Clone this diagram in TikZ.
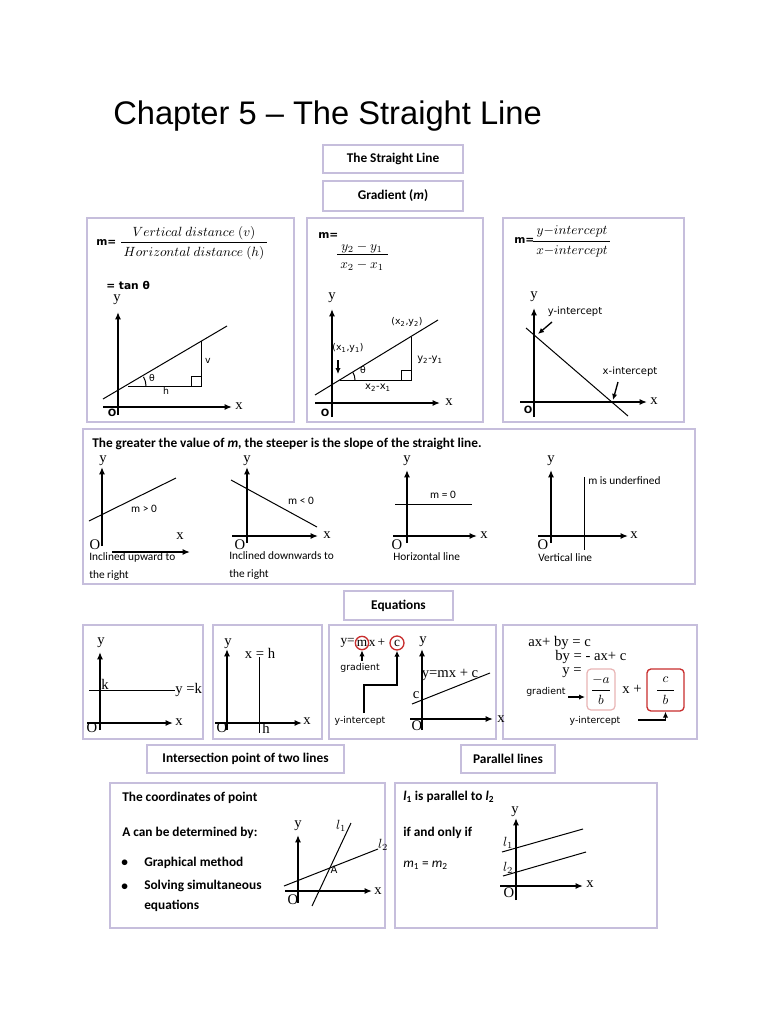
\documentclass[tikz,border=0pt]{standalone}
\usepackage{fontspec}
\setmainfont{Carlito}
\newfontfamily\arialf{Liberation Sans}
\newfontfamily\timesf{Liberation Serif}
\newfontfamily\verdf{DejaVu Sans}
\usetikzlibrary{arrows.meta,fit}
\definecolor{bordc}{RGB}{198,190,220}
\definecolor{redc}{RGB}{200,45,45}
\definecolor{pinkc}{RGB}{232,180,180}
\begin{document}
\begin{tikzpicture}[x=0.75pt,y=-0.75pt,
 panel/.style={draw=bordc,line width=1.3pt,inner sep=0pt},
 hbox/.style={draw=bordc,line width=1.3pt,inner sep=0pt,font=\bfseries\fontsize{10}{12}\selectfont},
 ax/.style={-{Latex[length=5.5pt,width=4.5pt]},line width=1.1pt},
 gl/.style={line width=0.75pt},
 arr/.style={-{Latex[length=4.5pt,width=4pt]},line width=1pt},
 tl/.style={font=\timesf\fontsize{11}{12}\selectfont,inner sep=0pt},
 ol/.style={font=\verdf\bfseries\fontsize{7.5}{8}\selectfont,inner sep=0pt},
 vl/.style={font=\verdf\fontsize{7}{8}\selectfont,inner sep=0pt},
 cl/.style={font=\fontsize{8.5}{10}\selectfont,inner sep=0pt},
 bl/.style={font=\bfseries\fontsize{10}{12}\selectfont,inner sep=0pt,anchor=west},
 ml/.style={font=\fontsize{10}{12}\selectfont,inner sep=0pt},
 mb/.style={font=\verdf\bfseries\fontsize{8}{9}\selectfont,inner sep=0pt,anchor=west},
]
\fill[white] (0,0) rectangle (768,1024);
\useasboundingbox (0,0) rectangle (768,1024);

% title
\node[font=\arialf\fontsize{24.5}{28}\selectfont,anchor=base west,inner sep=0pt] (title) at (113,124) {Chapter 5 – The Straight Line};

% header boxes
\node[hbox,minimum width=105pt,minimum height=21pt] (hS) at (393,159) {The Straight Line};
\node[hbox,minimum width=105pt,minimum height=22.5pt] (hG) at (393,196) {Gradient (\textit{m})};
\node[hbox,minimum width=81.75pt,minimum height=21.75pt] (hE) at (398.5,605.5) {Equations};
\node[hbox,minimum width=147.75pt,minimum height=21pt] (hI) at (245.5,759) {Intersection point of two lines};
\node[hbox,minimum width=70.5pt,minimum height=21pt] (hP) at (508,759) {Parallel lines};

% panels
\node[panel,fit={(87,218) (294,422)}] (pA) {};
\node[panel,fit={(307,218) (483,422)}] (pB) {};
\node[panel,fit={(503,218) (684,422)}] (pC) {};
\node[panel,fit={(83,429) (695,584)}] (pD) {};
\node[panel,fit={(83,625) (203,739)}] (pE1) {};
\node[panel,fit={(213,625) (322,739)}] (pE2) {};
\node[panel,fit={(329,625) (496,739)}] (pE3) {};
\node[panel,fit={(503,625) (697,739)}] (pE4) {};
\node[panel,fit={(110,783) (385,928)}] (pF) {};
\node[panel,fit={(395,783) (657,928)}] (pG) {};

% ---------- panel A
\node[mb] (mA) at (96,243) {m=};
\node[ml] (nA) at (194,233) {$Vertical\ distance\ (v)$};
\draw[line width=0.6pt] (121,242) -- (267,242);
\node[ml] (dA) at (194,253) {$Horizontal\ distance\ (h)$};
\node[font=\verdf\bfseries\fontsize{8}{9}\selectfont,inner sep=0pt,anchor=west] (tanA) at (106,285) {= tan θ};
\draw[ax] (118,415) -- (118,312);
\draw[ax] (103,407) -- (232,407);
\node[tl] at (117,300) {y};
\node[tl] at (239,406) {x};
\node[ol] at (112,413) {O};
\draw[gl] (103,399) -- (227,326);
\draw[gl] (128,386) -- (201,386) -- (201,341);
\draw[gl] (191,386) -- (191,376) -- (201,376);
\draw[gl] (146,386) arc[start angle=0,end angle=-30.5,radius=18];
\node[vl] at (152,378) {θ};
\node[vl] at (166,391) {h};
\node[vl] at (208,361) {v};

% ---------- panel B
\node[mb] (mB) at (318,236) {m=};
\node[ml] (nB) at (362,248) {$y_2 - y_1$};
\draw[line width=0.6pt] (337,254) -- (388,254);
\node[ml] (dB) at (362,266) {$x_2 - x_1$};
\draw[ax] (332,417) -- (332,309);
\draw[ax] (315,403) -- (440,403);
\node[tl] at (332,298) {y};
\node[tl] at (449,402) {x};
\node[ol] at (325,413) {O};
\draw[gl] (315,395) -- (438,320);
\draw[gl] (340,380) -- (411,380) -- (411,337);
\draw[gl] (401,380) -- (401,370) -- (411,370);
\draw[gl] (355,380) arc[start angle=0,end angle=-31.4,radius=15];
\node[vl] at (363,370) {θ};
\node[vl] (p1B) at (348,348) {(x\textsubscript{1},y\textsubscript{1})};
\coordinate (p1Bt) at (338,374);
\draw[arr] (338,360) -- (p1Bt);
\node[vl] at (407,322) {(x\textsubscript{2},y\textsubscript{2})};
\node[font=\verdf\fontsize{7.5}{8}\selectfont,inner sep=0pt] at (430,360) {y\textsubscript{2}-y\textsubscript{1}};
\node[font=\verdf\fontsize{7.5}{8}\selectfont,inner sep=0pt] at (378,388) {x\textsubscript{2}-x\textsubscript{1}};

% ---------- panel C
\node[mb] (mC) at (514,241) {m=};
\node[ml] (nC) at (572,231) {$y{-}intercept$};
\draw[line width=0.6pt] (533,241) -- (610,241);
\node[ml] (dC) at (572,251) {$x{-}intercept$};
\draw[ax] (534,417) -- (534,308);
\draw[ax] (520,402) -- (647,402);
\node[tl] at (534,297) {y};
\node[tl] at (654,401) {x};
\node[ol] at (528,410) {O};
\draw[gl] (526,328) -- (628,416);
\node[font=\verdf\fontsize{7.5}{8}\selectfont,inner sep=0pt] (yiC) at (575,312) {y-intercept};
\coordinate (yiCt) at (538,334);
\draw[arr] (552,322) -- (yiCt);
\node[font=\verdf\fontsize{7.5}{8}\selectfont,inner sep=0pt] (xiC) at (630,372) {x-intercept};
\coordinate (xiCt) at (613,400);
\draw[arr] (618,382) -- (xiCt);

% ---------- panel D
\node[bl] (tD) at (92,444) {The greater the value of \textit{m}, the steeper is the slope of the straight line.};
% graph 1
\draw[ax] (102,546) -- (102,467);
\draw[ax] (112,552) -- (190,552);
\node[tl] at (103,461) {y};
\node[tl] at (180,536) {x};
\node[tl] at (95,545) {O};
\draw[gl] (89,521) -- (176,478);
\node[cl] at (144,509) {m > 0};
\node[cl,anchor=west] at (89,557) {Inclined upward to};
\node[cl,anchor=west] at (89,576) {the right};
% graph 2
\draw[ax] (247,543) -- (247,467);
\draw[ax] (232,536) -- (318,536);
\node[tl] at (247,461) {y};
\node[tl] at (327,535) {x};
\node[tl] at (240,545) {O};
\draw[gl] (231,480) -- (317,527);
\node[cl] at (301,501) {m < 0};
\node[cl,anchor=west] at (229,556) {Inclined downwards to};
\node[cl,anchor=west] at (229,575) {the right};
% graph 3
\draw[ax] (407,543) -- (407,470);
\draw[ax] (393,536) -- (477,536);
\node[tl] at (407,461) {y};
\node[tl] at (484,535) {x};
\node[tl] at (397,545) {O};
\draw[gl] (395,504) -- (472,504);
\node[cl] at (443,495) {m = 0};
\node[cl,anchor=west] at (393,557) {Horizontal line};
% graph 4
\draw[ax] (551,543) -- (551,470);
\draw[ax] (538,536) -- (628,536);
\node[tl] at (551,461) {y};
\node[tl] at (634,535) {x};
\node[tl] at (543,545) {O};
\draw[gl] (584,477) -- (584,550);
\node[cl,anchor=west] at (588,481) {m is underfined};
\node[cl,anchor=west] at (538,558) {Vertical line};

% ---------- Equations 1
\draw[ax] (100,730) -- (100,652);
\draw[ax] (87,723) -- (173,723);
\node[tl] at (101,643) {y};
\node[tl] at (179,722) {x};
\node[tl] at (92,728) {O};
\draw[gl] (89,690) -- (175,690);
\node[tl] at (105,684) {k};
\node[tl,anchor=west] at (175,690) {y =k};

% ---------- Equations 2
\draw[ax] (227,730) -- (227,649);
\draw[ax] (215,723) -- (302,723);
\node[tl] at (228,644) {y};
\node[tl] at (307,721) {x};
\node[tl] at (222,728) {O};
\draw[gl] (259,657) -- (259,733);
\node[tl] at (260,653) {x = h};
\node[tl] at (266,728) {h};

% ---------- Equations 3
\node[tl,font=\timesf\fontsize{10}{12}\selectfont,anchor=east] (eqy) at (355,643) {y=};
\node[tl,font=\timesf\fontsize{10}{12}\selectfont,draw=redc,line width=1pt,circle,minimum size=10pt] (eqm) at (362,643) {m};
\node[tl,font=\timesf\fontsize{10}{12}\selectfont] (eqx) at (377,643) {x\,+};
\node[tl,font=\timesf\fontsize{10}{12}\selectfont,draw=redc,line width=1pt,circle,minimum size=10.5pt] (eqc) at (397,643) {c};
\node[vl] (grad3) at (360,668) {gradient};
\coordinate (g3s) at (362,661);
\draw[arr] (g3s) -- (eqm.south);
\node[vl] (yi3) at (360,721) {y-intercept};
\coordinate (y3s) at (364,713);
\draw[arr] (y3s) |- (397,685) -- (eqc.south);
\draw[ax] (422,730) -- (422,649);
\draw[ax] (410,719) -- (493,719);
\node[tl] at (423,642) {y};
\node[tl] at (501,719) {x};
\node[tl] at (417,726) {O};
\draw[gl] (412,704) -- (490,673);
\node[tl] at (416,695) {c};
\node[tl] at (450,675) {y=mx + c};

% ---------- Equations 4
\node[tl,anchor=west] at (528,643) {ax+ by = c};
\node[tl,anchor=west] at (555,657) {by = - ax+ c};
\node[tl,anchor=west] at (562,673) {y =};
\node[draw=pinkc,line width=0.9pt,rounded corners=3pt,fit={(587,669) (615,710)},inner sep=0pt] (bxA) {};
\node[ml] at (601,680) {$-a$};
\draw[line width=0.5pt] (592,690) -- (610,690);
\node[ml] at (601,700) {$b$};
\node[tl] at (632,689) {x +};
\node[draw=redc,line width=1pt,rounded corners=3pt,fit={(647,669) (684,711)},inner sep=0pt] (bxB) {};
\node[ml] at (665.5,680) {$c$};
\draw[line width=0.5pt] (657,690) -- (674,690);
\node[ml] at (665.5,700) {$b$};
\node[vl,anchor=west] (grad4) at (526,692) {gradient};
\coordinate (g4e) at (585,697);
\draw[arr] (568,697) -- (g4e);
\node[vl] (yi4) at (595,721) {y-intercept};
\coordinate (y4s) at (638,720);
\draw[arr] (y4s) -| (bxB.south);

% ---------- Intersection
\node[bl] at (122,798) {The coordinates of point};
\node[bl] at (122,833) {A can be determined by:};
\node[bl] at (121,863) {•};
\node[bl] at (121,887) {•};
\node[bl] at (144,863) {Graphical method};
\node[bl] at (144,886) {Solving simultaneous};
\node[bl] at (144,906) {equations};
\draw[ax] (298,903) -- (298,835);
\draw[ax] (285,891) -- (372,891);
\node[tl] at (298,826) {y};
\node[tl] at (378,891) {x};
\node[tl] at (293,900) {O};
\draw[gl] (312,906) -- (351,823);
\draw[gl] (284,886) -- (378,849);
\node[ml] at (341,826) {$l_1$};
\node[ml] at (383,845) {$l_2$};
\node[font=\verdf\fontsize{7.5}{8}\selectfont,inner sep=0pt] at (334,870) {A};

% ---------- Parallel
\node[bl] at (403,797) {\textit{l}\textsubscript{1} is parallel to \textit{l}\textsubscript{2}};
\node[bl] at (403,833) {if and only if};
\node[font=\fontsize{10}{12}\selectfont,inner sep=0pt,anchor=west] at (403,865) {\textit{m}\textsubscript{1} = \textit{m}\textsubscript{2}};
\draw[ax] (516,900) -- (516,818);
\draw[ax] (500,886) -- (583,886);
\node[tl] at (515,812) {y};
\node[tl] at (590,884) {x};
\node[tl] at (509,893) {O};
\draw[gl] (502,852) -- (583,829);
\draw[gl] (503,876) -- (586,852);
\node[ml] at (508,843) {$l_1$};
\node[ml] at (508,868) {$l_2$};
\end{tikzpicture}
\end{document}
